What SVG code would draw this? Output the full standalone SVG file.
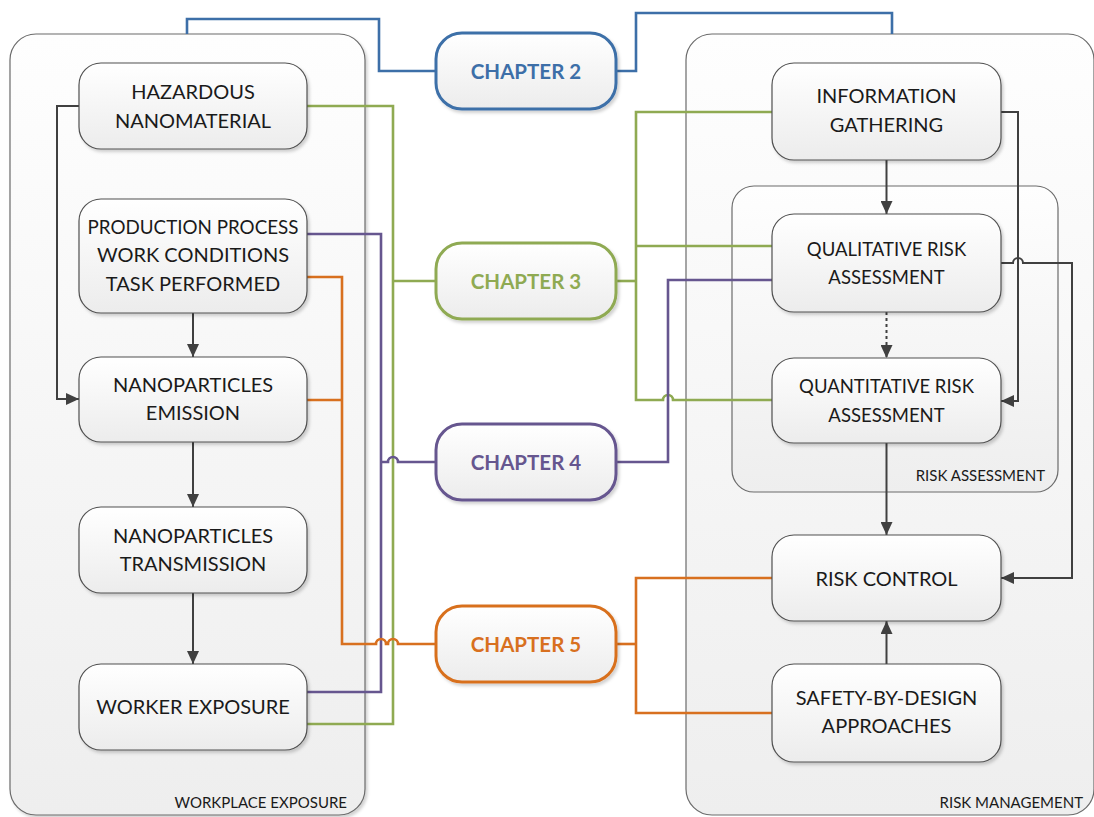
<svg xmlns="http://www.w3.org/2000/svg" width="1094" height="817" viewBox="0 0 1094 817">
  <style>
    .container { stroke: #6b6b6b; stroke-width: 1.2; fill: url(#contFill); }
    .node { stroke: #505050; stroke-width: 1.2; fill: url(#nodeFill); filter: url(#shadow); }
    .chap { stroke-width: 3; fill: url(#nodeFill); filter: url(#shadow); }
    .txt { font-family: Lato, "Liberation Sans", sans-serif; font-size: 20px; fill: #1a1a1a; text-anchor: middle; }
    .txt-s { font-size: 18.5px; }
    .lbl { font-family: Lato, "Liberation Sans", sans-serif; font-size: 15px; fill: #1a1a1a; text-anchor: end; }
    .ctxt { font-family: Lato, "Liberation Sans", sans-serif; font-size: 20.5px; font-weight: bold; text-anchor: middle; }
    .wire { fill: none; stroke-width: 2.6; stroke-linejoin: miter; }
    .flow { fill: none; stroke: #404040; stroke-width: 2; }
    .blue { stroke: #3d6fa8; }
    .green { stroke: #8faa52; }
    .purple { stroke: #66568f; }
    .orange { stroke: #d8701f; }
  </style>
  <defs>
    <linearGradient id="contFill" x1="0" y1="0" x2="0" y2="1">
      <stop offset="0" stop-color="#fefefe"/>
      <stop offset="1" stop-color="#eeeeee"/>
    </linearGradient>
    <linearGradient id="nodeFill" x1="0" y1="0" x2="0" y2="1">
      <stop offset="0" stop-color="#ffffff"/>
      <stop offset="1" stop-color="#ececec"/>
    </linearGradient>
    <filter id="shadow" x="-10%" y="-10%" width="125%" height="130%">
      <feDropShadow dx="2" dy="2.5" stdDeviation="1.4" flood-color="#000" flood-opacity="0.18"/>
    </filter>
    <marker id="arrow" viewBox="0 0 13 12" refX="13" refY="6" markerWidth="13" markerHeight="12" markerUnits="userSpaceOnUse" orient="auto">
      <path d="M0,0 L13,6 L0,12 z" fill="#404040"/>
    </marker>
  </defs>

  <!-- containers -->
  <g id="workplace-exposure">
    <rect class="container" x="10" y="34" width="355" height="781" rx="26" filter="url(#shadow)"/>
    <text class="lbl" x="347" y="808">WORKPLACE EXPOSURE</text>
  </g>
  <g id="risk-management">
    <rect class="container" x="686" y="34" width="408" height="781" rx="26"/>
    <text class="lbl" x="1083" y="808">RISK MANAGEMENT</text>
  </g>
  <g id="risk-assessment">
    <rect class="container" x="732" y="186" width="326" height="306" rx="22"/>
    <text class="lbl" x="1045" y="481">RISK ASSESSMENT</text>
  </g>

  <!-- connectors -->
  <g id="connectors">
    <!-- chapter 2 -->
    <path class="wire blue" d="M187,34 V19 H379 V71 H436"/>
    <path class="wire blue" d="M616,71 H636 V13 H892 V34"/>
    <!-- chapter 3 -->
    <path class="wire green" d="M307,106 H393 V724 H307"/>
    <path class="wire green" d="M393,281 H436"/>
    <path class="wire green" d="M616,281 H636"/>
    <path class="wire green" d="M772,112 H636 V400 H663 A5,5 0 0 1 673,400 H772"/>
    <path class="wire green" d="M636,246 H772"/>
    <!-- chapter 4 -->
    <path class="wire purple" d="M307,234 H381 V692 H307"/>
    <path class="wire purple" d="M381,462 H388 A5,5 0 0 1 398,462 H436"/>
    <path class="wire purple" d="M616,462 H668 V280 H772"/>
    <!-- chapter 5 -->
    <path class="wire orange" d="M307,277 H342 V644 H376 A5,5 0 0 1 386,644 H388 A5,5 0 0 1 398,644 H436"/>
    <path class="wire orange" d="M307,400 H342"/>
    <path class="wire orange" d="M616,644 H636"/>
    <path class="wire orange" d="M772,578 H636 V713 H772"/>
    <!-- process flow -->
    <path class="flow" d="M79,106 H57 V399 H79" marker-end="url(#arrow)"/>
    <path class="flow" d="M193,313 V357" marker-end="url(#arrow)"/>
    <path class="flow" d="M193,442 V507" marker-end="url(#arrow)"/>
    <path class="flow" d="M193,593 V664" marker-end="url(#arrow)"/>
    <path class="flow" d="M886.5,160 V214" marker-end="url(#arrow)"/>
    <path class="flow" d="M886.5,312 V358" stroke-dasharray="3,3" marker-end="url(#arrow)"/>
    <path class="flow" d="M886.5,443 V535" marker-end="url(#arrow)"/>
    <path class="flow" d="M886.5,664 V621" marker-end="url(#arrow)"/>
    <path class="flow" d="M1001,112 H1018 V401 H1001" marker-end="url(#arrow)"/>
    <path class="flow" d="M1001,263 H1013 A5,5 0 0 1 1023,263 H1072 V578 H1001" marker-end="url(#arrow)"/>
  </g>

  <!-- left column -->
  <g id="hazardous-nanomaterial">
    <rect class="node" x="79" y="63" width="228" height="86" rx="22"/>
    <text class="txt" x="193" y="99">HAZARDOUS</text>
    <text class="txt" x="193" y="128">NANOMATERIAL</text>
  </g>
  <g id="production-process">
    <rect class="node" x="79" y="199" width="228" height="114" rx="22"/>
    <text class="txt" x="193" y="234" style="font-size:18.8px">PRODUCTION PROCESS</text>
    <text class="txt" x="193" y="262">WORK CONDITIONS</text>
    <text class="txt" x="193" y="291">TASK PERFORMED</text>
  </g>
  <g id="nanoparticles-emission">
    <rect class="node" x="79" y="357" width="228" height="85" rx="22"/>
    <text class="txt" x="193" y="392">NANOPARTICLES</text>
    <text class="txt" x="193" y="420">EMISSION</text>
  </g>
  <g id="nanoparticles-transmission">
    <rect class="node" x="79" y="507" width="228" height="86" rx="22"/>
    <text class="txt" x="193" y="543">NANOPARTICLES</text>
    <text class="txt" x="193" y="571">TRANSMISSION</text>
  </g>
  <g id="worker-exposure">
    <rect class="node" x="79" y="664" width="228" height="86" rx="22"/>
    <text class="txt" x="193" y="714">WORKER EXPOSURE</text>
  </g>

  <!-- chapters -->
  <g id="chapter-2">
    <rect class="chap blue" x="436" y="33" width="180" height="76" rx="26"/>
    <text class="ctxt" x="526" y="79" fill="#3d6fa8">CHAPTER 2</text>
  </g>
  <g id="chapter-3">
    <rect class="chap green" x="436" y="243" width="180" height="76" rx="26"/>
    <text class="ctxt" x="526" y="289" fill="#8faa52">CHAPTER 3</text>
  </g>
  <g id="chapter-4">
    <rect class="chap purple" x="436" y="424" width="180" height="76" rx="26"/>
    <text class="ctxt" x="526" y="470" fill="#66568f">CHAPTER 4</text>
  </g>
  <g id="chapter-5">
    <rect class="chap orange" x="436" y="606" width="180" height="76" rx="26"/>
    <text class="ctxt" x="526" y="652" fill="#d8701f">CHAPTER 5</text>
  </g>

  <!-- right column -->
  <g id="information-gathering">
    <rect class="node" x="772" y="63" width="229" height="97" rx="22"/>
    <text class="txt" x="886.5" y="103">INFORMATION</text>
    <text class="txt" x="886.5" y="132">GATHERING</text>
  </g>
  <g id="qualitative-risk-assessment">
    <rect class="node" x="772" y="214" width="229" height="98" rx="22"/>
    <text class="txt txt-s" x="886.5" y="256">QUALITATIVE RISK</text>
    <text class="txt txt-s" x="886.5" y="284">ASSESSMENT</text>
  </g>
  <g id="quantitative-risk-assessment">
    <rect class="node" x="772" y="358" width="229" height="85" rx="22"/>
    <text class="txt txt-s" x="886.5" y="393">QUANTITATIVE RISK</text>
    <text class="txt txt-s" x="886.5" y="422">ASSESSMENT</text>
  </g>
  <g id="risk-control">
    <rect class="node" x="772" y="535" width="229" height="86" rx="22"/>
    <text class="txt" x="886.5" y="586">RISK CONTROL</text>
  </g>
  <g id="safety-by-design">
    <rect class="node" x="772" y="664" width="229" height="98" rx="22"/>
    <text class="txt" x="886.5" y="705">SAFETY-BY-DESIGN</text>
    <text class="txt" x="886.5" y="733">APPROACHES</text>
  </g>
</svg>
